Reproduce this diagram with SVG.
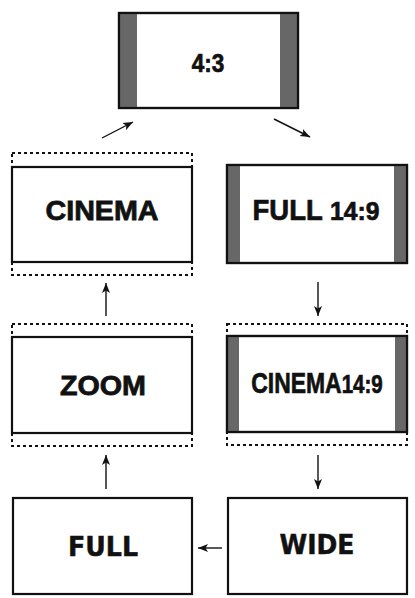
<svg xmlns="http://www.w3.org/2000/svg" width="415" height="598" viewBox="0 0 415 598">
<defs>
<style>
.box{fill:#fff;stroke:#111;stroke-width:2.2}
.dot{fill:none;stroke:#111;stroke-width:2;stroke-dasharray:3,3}
.bar{fill:#676767}
.edge{stroke:#111;stroke-width:1.4;fill:none;marker-end:url(#ah)}
.cond{font-family:"Liberation Sans",Arial,sans-serif;font-weight:bold;fill:#111;stroke:#111;stroke-width:0.7;text-anchor:middle}
.wide{font-family:"Liberation Sans",Arial,sans-serif;font-weight:bold;fill:#111;stroke:#111;stroke-width:0.8;text-anchor:middle;font-size:28px}
.dv{font-family:"DejaVu Sans",Verdana,sans-serif;font-weight:bold;fill:#111;stroke:#111;stroke-width:0.5;text-anchor:middle;font-size:26px}
</style>
<marker id="ah" viewBox="0 0 10 10" refX="10" refY="5" markerWidth="10" markerHeight="10" markerUnits="userSpaceOnUse" orient="auto">
<path d="M0,1 L10,5 L0,9 L2.5,5 Z" fill="#111"/>
</marker>
</defs>
<rect width="415" height="598" fill="#fff"/>
<g id="connectors">
<line class="edge" x1="102" y1="138" x2="133" y2="122"/>
<line class="edge" x1="274" y1="119" x2="310" y2="137"/>
<line class="edge" x1="318" y1="282" x2="318" y2="316"/>
<line class="edge" x1="318" y1="455" x2="318" y2="489"/>
<line class="edge" x1="222" y1="548" x2="198" y2="548"/>
<line class="edge" x1="106" y1="489" x2="106" y2="455"/>
<line class="edge" x1="106" y1="316" x2="106" y2="283"/>
</g>
<g id="n43">
<rect class="box" x="119" y="13" width="179" height="95"/>
<rect class="bar" x="120" y="14" width="17" height="93"/>
<rect class="bar" x="280" y="14" width="17" height="93"/>
<rect class="box" x="119" y="13" width="179" height="95" style="fill:none"/>
<text class="cond" transform="translate(208,72) scale(0.9,1)" font-size="25">4:3</text>
</g>
<g id="cinema">
<rect class="dot" x="12" y="153" width="180" height="122"/>
<rect class="box" x="12" y="167" width="180" height="95"/>
<text class="wide" x="102" y="220" textLength="113" lengthAdjust="spacingAndGlyphs">CINEMA</text>
</g>
<g id="full149">
<rect class="box" x="227" y="165" width="180" height="98"/>
<rect class="bar" x="228" y="166" width="12" height="96"/>
<rect class="bar" x="394" y="166" width="12" height="96"/>
<rect class="box" x="227" y="165" width="180" height="98" style="fill:none"/>
<text class="cond" transform="translate(316,220) scale(0.95,1)" font-size="29">FULL <tspan font-size="26">14:9</tspan></text>
</g>
<g id="zoom">
<rect class="dot" x="12" y="324" width="180" height="122"/>
<rect class="box" x="12" y="337" width="180" height="96"/>
<text class="wide" x="103" y="395" textLength="86" lengthAdjust="spacingAndGlyphs">ZOOM</text>
</g>
<g id="cinema149">
<rect class="dot" x="227" y="324" width="180" height="121"/>
<rect class="box" x="227" y="336" width="180" height="96"/>
<rect class="bar" x="228" y="337" width="11" height="94"/>
<rect class="bar" x="395" y="337" width="11" height="94"/>
<rect class="box" x="227" y="336" width="180" height="96" style="fill:none"/>
<text class="cond" transform="translate(317,393) scale(0.79,1)" font-size="29">CINEMA<tspan font-size="26">14:9</tspan></text>
</g>
<g id="full">
<rect class="box" x="13" y="498" width="179" height="96"/>
<text class="dv" x="103" y="556" textLength="70" lengthAdjust="spacingAndGlyphs">FULL</text>
</g>
<g id="wide">
<rect class="box" x="228" y="498" width="179" height="96"/>
<text class="dv" x="317" y="554" textLength="75" lengthAdjust="spacingAndGlyphs">WIDE</text>
</g>
</svg>
